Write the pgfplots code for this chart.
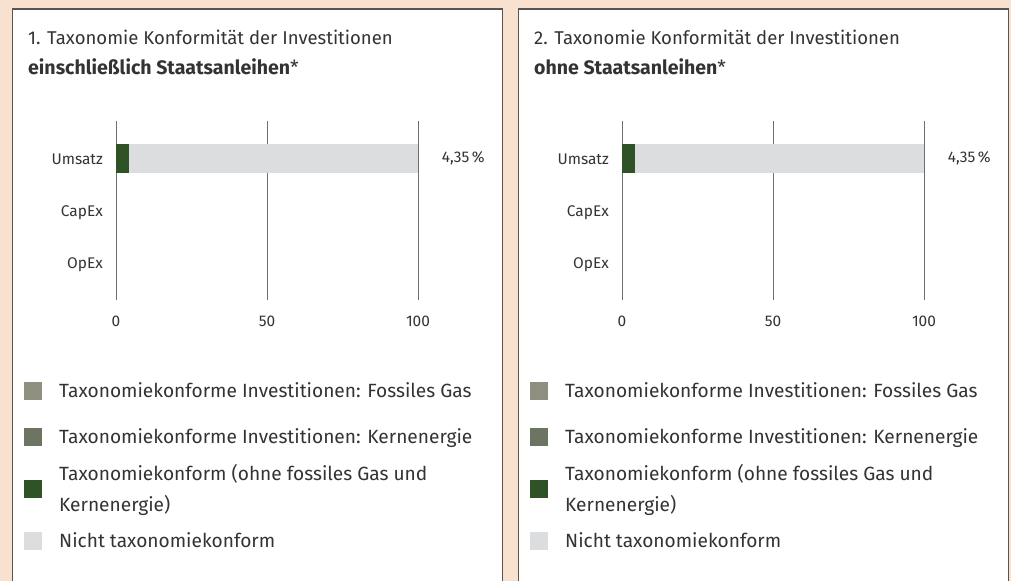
\documentclass[border=0pt]{standalone}
\usepackage{fontspec}
\setmainfont{Fira Sans}
\usepackage{pgfplots}
\usepackage{pgfplotstable}
\pgfplotsset{compat=1.18}
\definecolor{bg}{HTML}{F8E2CF}
\definecolor{frame}{HTML}{5B534E}
\definecolor{gas}{HTML}{8F8F80}
\definecolor{kern}{HTML}{6C7462}
\definecolor{gruen}{HTML}{2F5227}
\definecolor{nicht}{HTML}{DCDDDF}
\definecolor{txt}{HTML}{333333}
\definecolor{gridc}{HTML}{6E6E6E}

\pgfplotstableread{
pos gas kern gruen nicht
0 0 0 0 0
1 0 0 0 0
2 0 0 4.35 95.65
}\dataA
\pgfplotstableread{
pos gas kern gruen nicht
0 0 0 0 0
1 0 0 0 0
2 0 0 4.35 95.65
}\dataB

\pgfplotsset{
  panelaxis/.style={
    xbar stacked, scale only axis, width=302bp, height=179bp,
    anchor=south west, clip=false,
    xmin=0, xmax=100, ymin=-0.717, ymax=2.725,
    bar width=29bp,
    axis line style={draw=none},
    xmajorgrids, grid style={draw=gridc, line width=1bp},
    xtick={0,50,100}, ytick={0,1,2}, yticklabels={OpEx,CapEx,Umsatz},
    major tick length=0pt,
    /pgf/number format/assume math mode=true,
    tick label style={font=\fontsize{15.5}{18}\selectfont, text=txt, inner sep=0pt},
    xticklabel style={anchor=center, yshift=-21.7bp},
    yticklabel style={anchor=base east, xshift=-13bp, yshift=-5.3bp},
    legend cell align=left,
    legend image code/.code={\fill[##1] (0bp,-9bp) rectangle (18bp,9bp);},
    legend style={at={(0,0)}, anchor=north west, xshift=-92bp, yshift=-72.5bp,
      draw=none, fill=none, inner sep=0pt, row sep=9bp, column sep=17bp,
      font=\fontsize{19.2}{31}\selectfont, text=txt,
      nodes={inner sep=0pt, align=left, minimum height=37bp}},
  },
}

\begin{document}
\begin{tikzpicture}
\useasboundingbox (0bp,0bp) rectangle (1011bp,581bp);
\clip (0bp,0bp) rectangle (1011bp,581bp);
\fill[bg] (0bp,0bp) rectangle (1011bp,581bp);
\filldraw[fill=white, draw=frame, line width=1.5bp] (12.7bp,572bp) rectangle (502.7bp,-10bp);
\filldraw[fill=white, draw=frame, line width=1.5bp] (518.7bp,572bp) rectangle (1008.7bp,-10bp);

\node[anchor=base west, font=\fontsize{18.6}{24}\selectfont, text=txt, inner sep=0pt] at (28bp,536bp) {1. Taxonomie Konformität der Investitionen};
\node[anchor=base west, font=\fontsize{19.6}{24}\selectfont, text=txt, inner sep=0pt] at (28bp,506bp) {\textbf{einschließlich Staatsanleihen}*};
\node[anchor=base west, font=\fontsize{18.6}{24}\selectfont, text=txt, inner sep=0pt] at (534bp,536bp) {2. Taxonomie Konformität der Investitionen};
\node[anchor=base west, font=\fontsize{19.6}{24}\selectfont, text=txt, inner sep=0pt] at (534bp,506bp) {\textbf{ohne Staatsanleihen}*};

\begin{axis}[panelaxis, at={(116bp,281bp)}]
\addplot[fill=gas, draw=none] table[x=gas, y=pos] {\dataA};
\addplot[fill=kern, draw=none] table[x=kern, y=pos] {\dataA};
\addplot[fill=gruen, draw=none] table[x=gruen, y=pos] {\dataA};
\addplot[fill=nicht, draw=none] table[x=nicht, y=pos] {\dataA};
\legend{Taxonomiekonforme Investitionen: Fossiles Gas, Taxonomiekonforme Investitionen: Kernenergie, Taxonomiekonform (ohne fossiles Gas und\\Kernenergie), Nicht taxonomiekonform}
\node[anchor=west, inner sep=0pt, font=\fontsize{15.5}{18}\selectfont, text=txt, xshift=23.7bp] at (axis cs:100,2) {4,35\,\%};
\end{axis}

\begin{axis}[panelaxis, at={(622bp,281bp)}]
\addplot[fill=gas, draw=none] table[x=gas, y=pos] {\dataB};
\addplot[fill=kern, draw=none] table[x=kern, y=pos] {\dataB};
\addplot[fill=gruen, draw=none] table[x=gruen, y=pos] {\dataB};
\addplot[fill=nicht, draw=none] table[x=nicht, y=pos] {\dataB};
\legend{Taxonomiekonforme Investitionen: Fossiles Gas, Taxonomiekonforme Investitionen: Kernenergie, Taxonomiekonform (ohne fossiles Gas und\\Kernenergie), Nicht taxonomiekonform}
\node[anchor=west, inner sep=0pt, font=\fontsize{15.5}{18}\selectfont, text=txt, xshift=23.7bp] at (axis cs:100,2) {4,35\,\%};
\end{axis}
\end{tikzpicture}
\end{document}
